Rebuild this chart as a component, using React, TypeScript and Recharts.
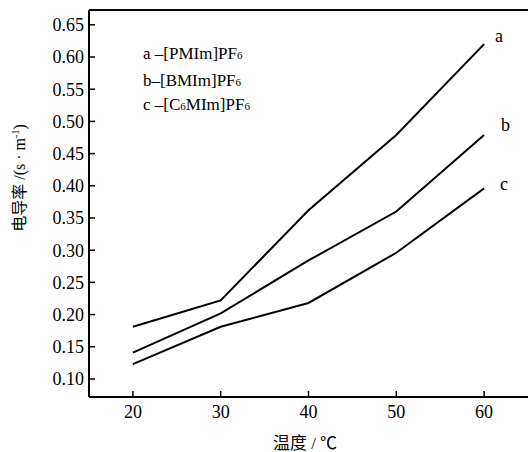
import React from 'react'
import { LineChart, Line, XAxis, YAxis, ReferenceLine } from 'recharts'

// temperature (°C) vs conductivity (s·m-1)
const temps = [20, 30, 40, 50, 60]
const pmimValues = [0.181, 0.222, 0.362, 0.479, 0.62]
const bmimValues = [0.141, 0.202, 0.284, 0.36, 0.479]
const c6mimValues = [0.123, 0.181, 0.218, 0.296, 0.396]
const xTicks = [20, 30, 40, 50, 60]
const yTicks = [0.1, 0.15, 0.2, 0.25, 0.3, 0.35, 0.4, 0.45, 0.5, 0.55, 0.6, 0.65]

const Y_MIN = 0.072
const Y_MAX = 0.673

const data = temps.map((t, i) => ({
  t,
  a: pmimValues[i],
  b: bmimValues[i],
  c: c6mimValues[i],
}))

const serif = "'Liberation Serif', 'Times New Roman', serif"
const cjk = "'Liberation Serif', 'Noto Sans CJK SC', serif"

const tickStyle = { fill: '#000', fontSize: 18, fontFamily: serif }

const endLabel = (name: string, dx: number, dy: number) => (props: any) => {
  if (props.index !== temps.length - 1) return null
  return (
    <text
      key={name}
      x={props.x + dx}
      y={props.y + dy}
      fontSize={18}
      fontFamily={serif}
      fill="#000"
    >
      {name}
    </text>
  )
}

const legendItems = [
  { key: 'a', pre: 'a –[PMIm]PF', top: 44 },
  { key: 'b', pre: 'b–[BMIm]PF', top: 71 },
  { key: 'c', pre: 'c –[C', mid: '6', post: 'MIm]PF', top: 95 },
]

export default function App() {
  return (
    <div style={{ position: 'absolute', left: 0, top: 0, width: 528, height: 452, background: '#fff' }}>
      <LineChart
        width={528}
        height={452}
        data={data}
        margin={{ top: 10, right: 0, bottom: 0, left: 0 }}
      >
        <XAxis
          dataKey="t"
          type="number"
          domain={[15, 65]}
          ticks={xTicks}
          height={55}
          tickSize={-6}
          tickMargin={14}
          tick={tickStyle}
          tickLine={{ stroke: '#000', strokeWidth: 1.5 }}
          axisLine={{ stroke: '#000', strokeWidth: 2 }}
        />
        <YAxis
          type="number"
          domain={[Y_MIN, Y_MAX]}
          ticks={yTicks}
          tickFormatter={(v: number) => v.toFixed(2)}
          width={89}
          tickSize={-6}
          tickMargin={11}
          tick={tickStyle}
          tickLine={{ stroke: '#000', strokeWidth: 1.5 }}
          axisLine={{ stroke: '#000', strokeWidth: 2 }}
          allowDataOverflow
        />
        <ReferenceLine y={Y_MAX} stroke="#000" strokeWidth={2} />
        <Line dataKey="a" stroke="#000" strokeWidth={2} dot={false} isAnimationActive={false} label={endLabel('a', 11, -2)} />
        <Line dataKey="b" stroke="#000" strokeWidth={2} dot={false} isAnimationActive={false} label={endLabel('b', 17, -4)} />
        <Line dataKey="c" stroke="#000" strokeWidth={2} dot={false} isAnimationActive={false} label={endLabel('c', 16, 2)} />
      </LineChart>

      {legendItems.map((it) => (
        <div
          key={it.key}
          style={{
            position: 'absolute',
            left: 143,
            top: it.top,
            fontFamily: serif,
            fontSize: 17,
            lineHeight: '20px',
            whiteSpace: 'nowrap',
            color: '#000',
          }}
        >
          {it.pre}
          {it.mid ? <span style={{ fontSize: 11 }}>{it.mid}</span> : null}
          {it.post || ''}
          <span style={{ fontSize: 11 }}>6</span>
        </div>
      ))}

      <div
        style={{
          position: 'absolute',
          left: 18,
          top: 178,
          transform: 'translate(-50%, -50%) rotate(-90deg)',
          fontFamily: cjk,
          fontSize: 16,
          whiteSpace: 'nowrap',
          color: '#000',
        }}
      >
        电导率 /(s · m<sup style={{ fontSize: 10 }}>-1</sup>)
      </div>

      <div
        style={{
          position: 'absolute',
          left: 305,
          top: 441,
          transform: 'translate(-50%, -50%)',
          fontFamily: cjk,
          fontSize: 17,
          whiteSpace: 'nowrap',
          color: '#000',
        }}
      >
        温度 / ℃
      </div>
    </div>
  )
}
